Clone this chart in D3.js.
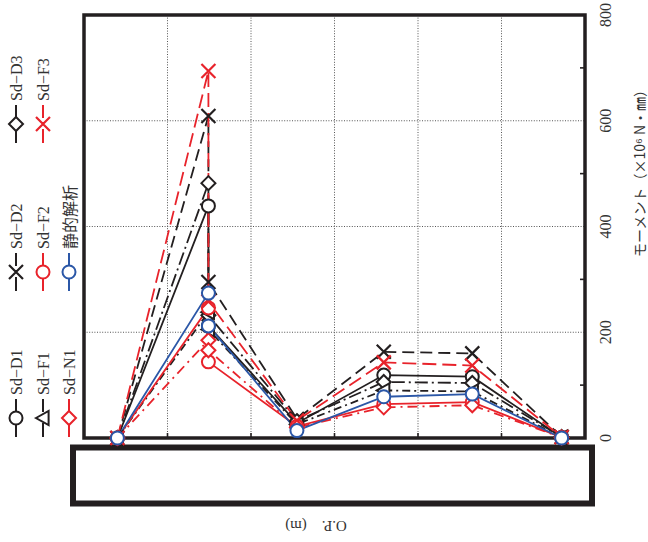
<!DOCTYPE html>
<html>
<head>
<meta charset="utf-8">
<script src="https://cdn.jsdelivr.net/npm/d3@7"></script>
<style>
  html, body { margin: 0; padding: 0; background: #fff; }
  svg { display: block; }
</style>
</head>
<body>
<svg id="chart" width="648" height="542"></svg>
<script>
// O.P. stations along the member (axis units) and the station used by each value
const opStations = [0.40, 1.49, 2.55, 3.59, 4.65, 5.72];
const stationIndex = [0, 1, 1, 2, 3, 4, 5];   // station 2 carries two values (moment jump)

// Bending moment (×10^6 N·mm) at each station
const sdD1 = [0, 439, 212, 28, 119, 116, 1];
const sdD2 = [0, 609, 295, 36, 163, 160, 2];
const sdD3 = [0, 482, 232, 32, 106, 104, 2];
const sdF1 = [0, 238, 205, 26, 90, 88, 1];
const sdF2 = [0, 246, 144, 22, 64, 68, 1];
const sdF3 = [0, 694, 258, 33, 143, 137, 2];
const sdN1 = [0, 185, 166, 20, 58, 62, 1];
const staticAnalysis = [0, 274, 212, 14, 78, 83, 0];

const momentTicks = [0, 200, 400, 600, 800];
const momentMinorTicks = [100, 300, 500, 700];
const gridStations = [1, 2, 3, 4, 5];

const BLACK = "#231f20", RED = "#e8232b", BLUE = "#2b57a7";

const series = [
  { name: "Sd\u2212D1", values: sdD1, color: BLACK, dash: null,          marker: "circle",   col: 0, row: 0 },
  { name: "Sd\u2212D2", values: sdD2, color: BLACK, dash: "12,6",        marker: "cross",    col: 0, row: 1 },
  { name: "Sd\u2212D3", values: sdD3, color: BLACK, dash: "13,4,2,4",    marker: "diamond",  col: 0, row: 2 },
  { name: "Sd\u2212F1", values: sdF1, color: BLACK, dash: "8,4,2,4",     marker: "triangle", col: 1, row: 0 },
  { name: "Sd\u2212F2", values: sdF2, color: RED,   dash: null,          marker: "circle",   col: 1, row: 1 },
  { name: "Sd\u2212F3", values: sdF3, color: RED,   dash: "14,6",        marker: "cross",    col: 1, row: 2 },
  { name: "Sd\u2212N1", values: sdN1, color: RED,   dash: "10,5,2,5",    marker: "diamond",  col: 2, row: 0 },
  { name: "静的解析",   values: staticAnalysis, color: BLUE, dash: null, marker: "circle",   col: 2, row: 1 }
];

const svg = d3.select("#chart");
const plot = { left: 84, right: 585, top: 15, bottom: 438 };

const x = d3.scaleLinear().domain([0, 6]).range([plot.left, plot.right]);
const y = d3.scaleLinear().domain([0, 800]).range([plot.bottom, plot.top]);

const serif = "'Liberation Serif', 'DejaVu Serif', serif";
const cjk = "'Noto Sans CJK JP', sans-serif";

// dotted grid
const grid = svg.append("g").attr("stroke", "#555").attr("stroke-width", 1)
  .attr("stroke-dasharray", "1,1.6");
grid.selectAll("line.v").data(gridStations).join("line")
  .attr("x1", d => x(d)).attr("x2", d => x(d))
  .attr("y1", plot.top).attr("y2", plot.bottom);
grid.selectAll("line.h").data(momentTicks.filter(d => d > 0 && d < 800)).join("line")
  .attr("x1", plot.left).attr("x2", plot.right)
  .attr("y1", d => y(d)).attr("y2", d => y(d));

// small inward ticks
const ticks = svg.append("g").attr("stroke", BLACK).attr("stroke-width", 1.6);
ticks.selectAll("line.b").data(gridStations).join("line")
  .attr("x1", d => x(d)).attr("x2", d => x(d))
  .attr("y1", plot.bottom).attr("y2", plot.bottom - 5);
ticks.selectAll("line.r").data(momentMinorTicks).join("line")
  .attr("x1", plot.right).attr("x2", plot.right - 5)
  .attr("y1", d => y(d)).attr("y2", d => y(d));

// frame
svg.append("rect")
  .attr("x", plot.left).attr("y", plot.top)
  .attr("width", plot.right - plot.left).attr("height", plot.bottom - plot.top)
  .attr("fill", "none").attr("stroke", BLACK).attr("stroke-width", 3.5);

// structural member drawn under the stations
svg.append("rect")
  .attr("x", 73).attr("y", 447.5).attr("width", 519).attr("height", 56)
  .attr("fill", "none").attr("stroke", BLACK).attr("stroke-width", 6);

// moment axis labels (right side, rotated)
svg.append("g").selectAll("text").data(momentTicks).join("text")
  .attr("transform", d => `translate(605,${y(d)}) rotate(-90)`)
  .attr("text-anchor", "middle").attr("dominant-baseline", "central")
  .attr("font-family", serif).attr("font-size", 16).attr("fill", "#333")
  .text(d => d);

svg.append("text")
  .attr("transform", "translate(639,170) rotate(-90)")
  .attr("text-anchor", "middle").attr("dominant-baseline", "central")
  .attr("font-family", cjk).attr("font-size", 14).attr("fill", "#333")
  .text("モーメント（×10⁶ N・㎜）");

svg.append("text")
  .attr("transform", "translate(316,526) rotate(180)")
  .attr("text-anchor", "middle").attr("dominant-baseline", "central")
  .attr("font-family", serif).attr("font-size", 15).attr("fill", "#333")
  .text("O.P.　(m)");

// marker shapes
function drawMarker(g, type, color, cx, cy) {
  const s = 7;
  if (type === "circle") {
    g.append("circle").attr("cx", cx).attr("cy", cy).attr("r", 6.5)
      .attr("fill", "#fff").attr("stroke", color).attr("stroke-width", 2);
  } else if (type === "cross") {
    g.append("path")
      .attr("d", `M${cx - s},${cy - s}L${cx + s},${cy + s}M${cx - s},${cy + s}L${cx + s},${cy - s}`)
      .attr("stroke", color).attr("stroke-width", 2.2).attr("fill", "none");
  } else if (type === "diamond") {
    g.append("path")
      .attr("d", `M${cx},${cy - s}L${cx + s},${cy}L${cx},${cy + s}L${cx - s},${cy}Z`)
      .attr("fill", "#fff").attr("stroke", color).attr("stroke-width", 2);
  } else if (type === "triangle") {
    // pointing left after the figure's rotation
    g.append("path")
      .attr("d", `M${cx - s},${cy}L${cx + s * 0.8},${cy - s}L${cx + s * 0.8},${cy + s}Z`)
      .attr("fill", "#fff").attr("stroke", color).attr("stroke-width", 2);
  }
}

// series lines
const line = d3.line()
  .x((d, i) => x(opStations[stationIndex[i]]))
  .y(d => y(d));

const lines = svg.append("g");
series.forEach(s => {
  lines.append("path")
    .attr("d", line(s.values))
    .attr("fill", "none").attr("stroke", s.color).attr("stroke-width", 1.8)
    .attr("stroke-dasharray", s.dash);
});

const markers = svg.append("g");
series.forEach(s => {
  s.values.forEach((v, i) => drawMarker(markers, s.marker, s.color, x(opStations[stationIndex[i]]), y(v)));
});

// legend (rotated with the figure)
const legCols = [16, 43, 69];
const legRowBottom = [437, 291, 143];
const legend = svg.append("g");
series.forEach(s => {
  const lx = legCols[s.col], yb = legRowBottom[s.row], yt = yb - 38;
  legend.append("line")
    .attr("x1", lx).attr("x2", lx).attr("y1", yb).attr("y2", yt)
    .attr("stroke", s.color).attr("stroke-width", 2)
    .attr("stroke-dasharray", s.dash ? "14,4,3,4" : null);
  drawMarker(legend, s.marker, s.color, lx, yb - 19);
  legend.append("text")
    .attr("transform", `translate(${lx},${yt - 4}) rotate(-90)`)
    .attr("text-anchor", "start").attr("dominant-baseline", "central")
    .attr("font-family", s.name.startsWith("Sd") ? serif : cjk)
    .attr("font-size", 16).attr("fill", "#333")
    .text(s.name);
});
</script>
</body>
</html>
